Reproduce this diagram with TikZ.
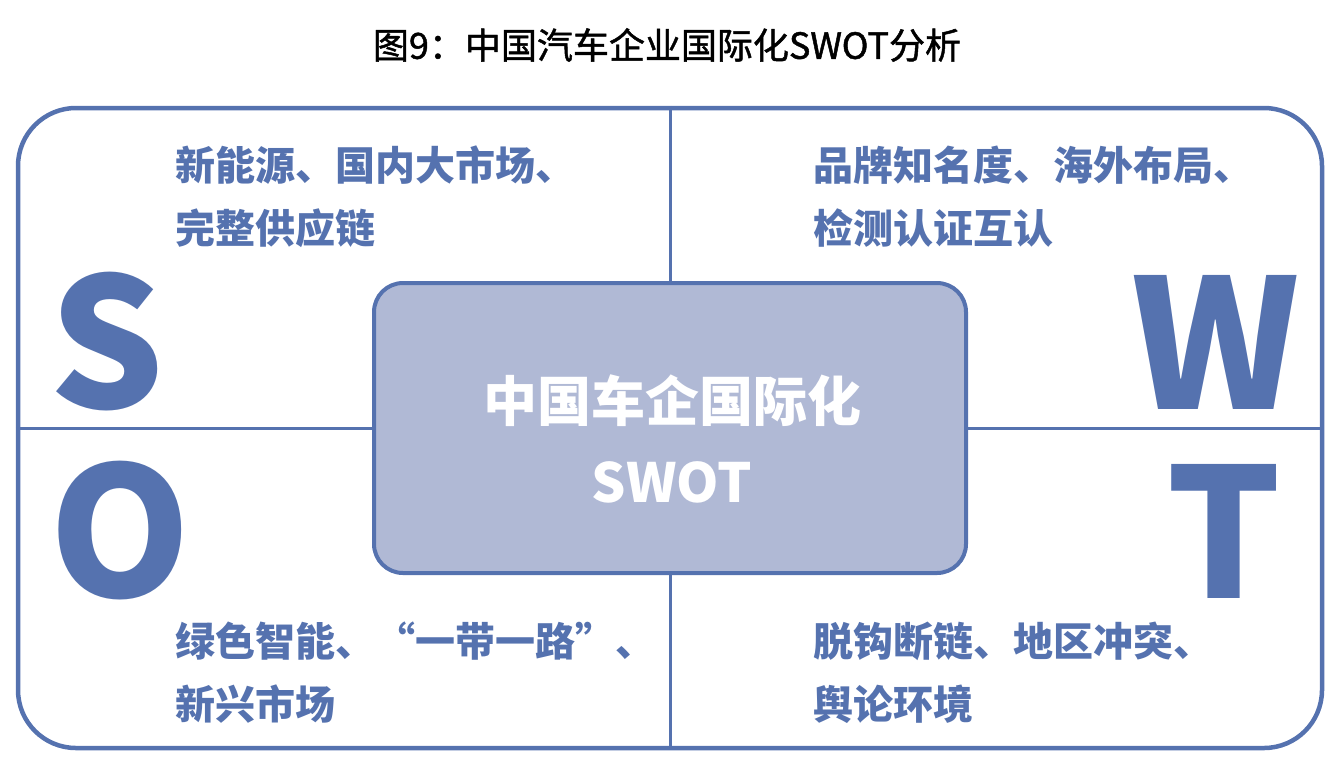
\documentclass[tikz,border=0pt]{standalone}
\usepackage{fontspec}
\setmainfont{Noto Sans CJK SC}
\newfontfamily\titlefont{Noto Sans CJK SC}[FakeBold=1.3]
\usepackage{tikz}
\usetikzlibrary{positioning}
\definecolor{swotblue}{RGB}{85,114,175}
\definecolor{corefill}{RGB}{176,185,213}

\begin{document}
\begin{tikzpicture}[x=1pt, y=-1pt,
  frame/.style={rectangle, draw=swotblue, line width=4.5pt, rounded corners=58pt,
                minimum width=1304pt, minimum height=640pt, inner sep=0pt},
  core/.style={rectangle, draw=swotblue, fill=corefill, line width=4pt, rounded corners=29pt,
               minimum width=592pt, minimum height=290pt, inner sep=0pt},
  divider/.style={draw=swotblue, line width=3pt},
  item/.style={anchor=base west, align=left, inner sep=0pt, text=swotblue,
               font=\fontsize{40}{63}\selectfont\bfseries},
  letter/.style={inner sep=0pt, text=swotblue, font=\fontsize{180}{180}\selectfont\bfseries}]
  \useasboundingbox (0,0) rectangle (1338,764);
  \node[font=\titlefont\fontsize{36}{36}\selectfont] (title) at (667,45) {图9：中国汽车企业国际化SWOT分析};
  \node[frame] (box) at (670,428) {};
  \draw[divider] (box.north) -- (box.south);
  \draw[divider] (box.west) -- (box.east);
  \node[core] (core) at (670,428) {};
  \node[align=center, text=white, inner sep=0pt,
        font=\fontsize{54}{81}\selectfont\bfseries] (corelabel) at (672,439) {中国车企国际化\\SWOT};
  % the four letters
  \node[letter] (s) at (107,342) {S};
  \node[letter] (w) at (1216,342) {W};
  \node[letter] (o) at (120,531) {O};
  \node[letter] (t) at (1224,531) {T};
  % quadrant texts (anchored on the second line)
  \node[item] (strength) at (175,243) {新能源、国内大市场、\\完整供应链};
  \node[item] (weakness) at (813,243) {品牌知名度、海外布局、\\检测认证互认};
  \node[item] (opportunity) at (175,719) {绿色智能、“一带一路”、\\新兴市场};
  \node[item] (threat) at (813,719) {脱钩断链、地区冲突、\\舆论环境};
\end{tikzpicture}
\end{document}
